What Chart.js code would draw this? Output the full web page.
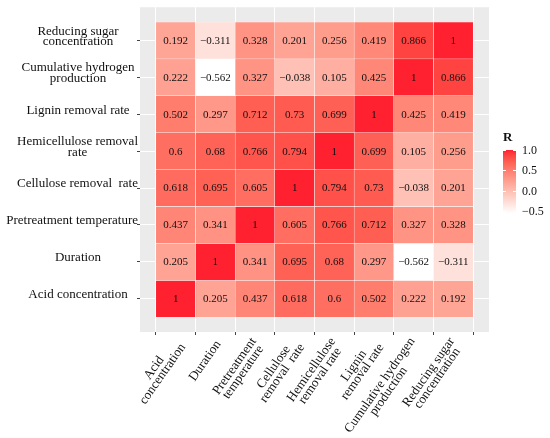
<!DOCTYPE html>
<html>
<head>
<meta charset="utf-8">
<script src="https://cdn.jsdelivr.net/npm/chart.js@4.4.1/dist/chart.umd.min.js"></script>
<style>
  html, body { margin: 0; padding: 0; background: #fff; }
  #wrap { width: 550px; height: 438px; }
</style>
</head>
<body>
<div id="wrap"><canvas id="heat" width="550" height="438"></canvas></div>
<script>
// variables, bottom to top on y and left to right on x
const yLabels = [
  ['Acid concentration'],
  ['Duration'],
  ['Pretreatment temperature'],
  ['Cellulose removal  rate'],
  ['Hemicellulose removal', 'rate'],
  ['Lignin removal rate'],
  ['Cumulative hydrogen', 'production'],
  ['Reducing sugar', 'concentration']
];
const xLabels = [
  ['Acid', 'concentration'],
  ['Duration'],
  ['Pretreatment', 'temperature'],
  ['Cellulose', 'removal  rate'],
  ['Hemicellulose', 'removal rate'],
  ['Lignin', 'removal rate'],
  ['Cumulative hydrogen', 'production'],
  ['Reducing sugar', 'concentration']
];

// correlation (R) rows, same order as yLabels
const rAcid      = [1, 0.205, 0.437, 0.618, 0.6, 0.502, 0.222, 0.192];
const rDuration  = [0.205, 1, 0.341, 0.695, 0.68, 0.297, -0.562, -0.311];
const rTemp      = [0.437, 0.341, 1, 0.605, 0.766, 0.712, 0.327, 0.328];
const rCellulose = [0.618, 0.695, 0.605, 1, 0.794, 0.73, -0.038, 0.201];
const rHemi      = [0.6, 0.68, 0.766, 0.794, 1, 0.699, 0.105, 0.256];
const rLignin    = [0.502, 0.297, 0.712, 0.73, 0.699, 1, 0.425, 0.419];
const rHydrogen  = [0.222, -0.562, 0.327, -0.038, 0.105, 0.425, 1, 0.866];
const rSugar     = [0.192, -0.311, 0.328, 0.201, 0.256, 0.419, 0.866, 1];

const legendTicks = [1.0, 0.5, 0.0, -0.5];

const rows = [rAcid, rDuration, rTemp, rCellulose, rHemi, rLignin, rHydrogen, rSugar];
const centres = rows.map((_, i) => i + 0.5);
const cells = [];
rows.forEach((row, r) => row.forEach((v, c) => cells.push({ x: c + 0.5, y: [r, r + 1], v })));

const rMin = Math.min(...cells.map(d => d.v));
const rMax = 1;

// white -> red gradient, interpolated in Lab like ggplot
const lin = c => { c /= 255; return c <= 0.04045 ? c / 12.92 : Math.pow((c + 0.055) / 1.055, 2.4); };
const gam = c => {
  const v = c <= 0.0031308 ? 12.92 * c : 1.055 * Math.pow(c, 1 / 2.4) - 0.055;
  return Math.round(Math.max(0, Math.min(1, v)) * 255);
};
const WP = [0.95047, 1, 1.08883];
function rgbToLab(rgb) {
  const [r, g, b] = rgb.map(lin);
  const x = (0.4124 * r + 0.3576 * g + 0.1805 * b) / WP[0];
  const y = (0.2126 * r + 0.7152 * g + 0.0722 * b) / WP[1];
  const z = (0.0193 * r + 0.1192 * g + 0.9505 * b) / WP[2];
  const f = t => t > 0.008856 ? Math.cbrt(t) : 7.787 * t + 16 / 116;
  return [116 * f(y) - 16, 500 * (f(x) - f(y)), 200 * (f(y) - f(z))];
}
function labToRgb([L, a, b]) {
  const fy = (L + 16) / 116, fx = fy + a / 500, fz = fy - b / 200;
  const fi = t => t * t * t > 0.008856 ? t * t * t : (t - 16 / 116) / 7.787;
  const x = fi(fx) * WP[0], y = fi(fy) * WP[1], z = fi(fz) * WP[2];
  const r = 3.2406 * x - 1.5372 * y - 0.4986 * z;
  const g = -0.9689 * x + 1.8758 * y + 0.0415 * z;
  const bl = 0.0557 * x - 0.2040 * y + 1.0570 * z;
  return `rgb(${gam(r)},${gam(g)},${gam(bl)})`;
}
const lowLab = rgbToLab([255, 255, 255]);
const highLab = rgbToLab([255, 32, 48]);
function fill(v) {
  const t = Math.max(0, Math.min(1, (v - rMin) / (rMax - rMin)));
  return labToRgb(lowLab.map((l, i) => l + (highLab[i] - l) * t));
}
const fmt = v => String(v).replace('-', '\u2212');

const panelBg = {
  id: 'panelBg',
  beforeDraw(chart) {
    const { ctx, chartArea: a } = chart;
    ctx.save();
    ctx.fillStyle = '#EBEBEB';
    ctx.fillRect(a.left, a.top, a.right - a.left, a.bottom - a.top);
    ctx.restore();
  }
};

const cellText = {
  id: 'cellText',
  afterDatasetsDraw(chart) {
    const { ctx } = chart;
    ctx.save();
    ctx.font = '11px "Liberation Serif"';
    ctx.fillStyle = '#111';
    ctx.textAlign = 'center';
    ctx.textBaseline = 'middle';
    chart.getDatasetMeta(0).data.forEach((bar, i) => {
      ctx.fillText(fmt(cells[i].v), bar.x, (bar.y + bar.base) / 2 + 0.5);
    });
    ctx.restore();
  }
};

// axis labels: lines centred on each other, blocks kept clear of the ticks
const axisText = {
  id: 'axisText',
  afterDraw(chart) {
    const { ctx, chartArea } = chart;
    const { x, y } = chart.scales;
    ctx.save();
    ctx.font = '13px "Liberation Serif"';
    ctx.fillStyle = '#111';
    ctx.textAlign = 'center';
    ctx.textBaseline = 'middle';
    const lh = 10.5;
    yLabels.forEach((lines, i) => {
      const py = y.getPixelForValue(centres[i]) - 4;
      const w = Math.max(...lines.map(l => ctx.measureText(l).width));
      const cx = Math.min(78, chartArea.left - 2 - w / 2);
      lines.forEach((l, k) => ctx.fillText(l, cx, py + (k - (lines.length - 1) / 2) * lh));
    });
    xLabels.forEach((lines, i) => {
      const px = x.getPixelForValue(centres[i]);
      const w = Math.max(...lines.map(l => ctx.measureText(l).width));
      ctx.save();
      ctx.translate(px + 3, chartArea.bottom + 10);
      ctx.rotate(-55 * Math.PI / 180);
      lines.forEach((l, k) => ctx.fillText(l, -w / 2, (k - (lines.length - 1) / 2) * lh));
      ctx.restore();
    });
    ctx.restore();
  }
};

const colourBar = {
  id: 'colourBar',
  afterDraw(chart) {
    const { ctx } = chart;
    const left = 503, width = 13, top = 150, perUnit = 40.6;
    const yOf = v => top + (rMax - v) * perUnit;
    const bottom = yOf(rMin);
    const grad = ctx.createLinearGradient(0, bottom, 0, top);
    for (let k = 0; k <= 20; k++) grad.addColorStop(k / 20, fill(rMin + (rMax - rMin) * k / 20));
    ctx.save();
    ctx.fillStyle = grad;
    ctx.fillRect(left, top, width, bottom - top);
    ctx.strokeStyle = '#fff';
    ctx.lineWidth = 1;
    ctx.font = '12px "Liberation Serif"';
    ctx.fillStyle = '#111';
    ctx.textAlign = 'left';
    ctx.textBaseline = 'middle';
    legendTicks.forEach(v => {
      const yy = Math.round(yOf(v)) + 0.5;
      ctx.beginPath();
      ctx.moveTo(left, yy); ctx.lineTo(left + 3, yy);
      ctx.moveTo(left + width - 3, yy); ctx.lineTo(left + width, yy);
      ctx.stroke();
      ctx.fillText(v.toFixed(1).replace('-', '\u2212'), 522, yy);
    });
    ctx.font = 'bold 13px "Liberation Serif"';
    ctx.fillText('R', left, 138);
    ctx.restore();
  }
};

new Chart(document.getElementById('heat'), {
  type: 'bar',
  data: {
    datasets: [{
      data: cells,
      backgroundColor: ctx => fill(ctx.raw.v),
      borderColor: 'rgba(255,255,255,0.85)',
      borderWidth: 0.5,
      borderSkipped: false,
      barPercentage: 1,
      categoryPercentage: 1
    }]
  },
  options: {
    responsive: false,
    animation: false,
    layout: { padding: { top: 7, right: 61, left: 0, bottom: 0 } },
    plugins: { legend: { display: false }, tooltip: { enabled: false } },
    scales: {
      x: {
        type: 'linear',
        min: -0.4,
        max: 8.4,
        offset: false,
        afterBuildTicks: s => { s.ticks = centres.map(value => ({ value })); },
        afterFit: s => { s.height = 106; },
        border: { display: false },
        grid: { color: '#fff', lineWidth: 1, tickColor: '#444', tickLength: 3 },
        ticks: { callback: () => '', autoSkip: false, maxRotation: 0 }
      },
      y: {
        type: 'linear',
        min: -0.4,
        max: 8.4,
        afterBuildTicks: s => { s.ticks = centres.map(value => ({ value })); },
        afterFit: s => { s.width = 140; },
        border: { display: false },
        grid: { color: '#fff', lineWidth: 1, tickColor: '#444', tickLength: 3 },
        ticks: { callback: () => '', autoSkip: false, padding: 0 }
      }
    }
  },
  plugins: [panelBg, cellText, axisText, colourBar]
});
</script>
</body>
</html>
